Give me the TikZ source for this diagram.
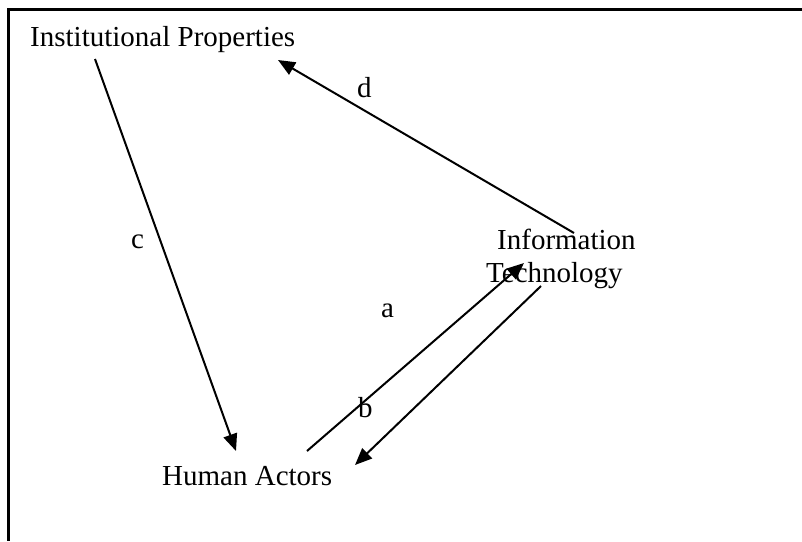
\documentclass[tikz,border=0pt]{standalone}
\usepackage{fontspec}
\setmainfont{Liberation Serif}
\usetikzlibrary{arrows.meta}
\begin{document}
\begin{tikzpicture}[x=1pt,y=-1pt,
  lbl/.style={inner sep=0pt,anchor=base west,font=\fontsize{29}{33}\selectfont},
  conn/.style={line width=2pt,-{Triangle[length=17pt,width=14pt]}},
  frameline/.style={line width=2.4pt}]
\useasboundingbox (0,0) rectangle (802,541);
% frame (only top and left edges visible)
\coordinate (fTR) at (802,9.5);
\coordinate (fTL) at (8.5,9.5);
\coordinate (fBL) at (8.5,541);
\draw[frameline] (fTR) -- (fTL) -- (fBL);
% text nodes
\node[lbl] (ip) at (30,46) {Institutional Properties};
\node[lbl] (it1) at (497,249) {Information};
\node[lbl] (it2) at (486,282) {Technology};
\node[lbl] (ha) at (162,485) {Human Actors};
% edge labels
\node[lbl] (la) at (381,317) {a};
\node[lbl] (lb) at (358,417) {b};
\node[lbl] (lc) at (131,248) {c};
\node[lbl] (ld) at (357,97) {d};
% connector ends
\coordinate (cS) at (95,59);
\coordinate (cE) at (236,451);
\coordinate (dS) at (574,233);
\coordinate (dE) at (278,60);
\coordinate (aS) at (307,451);
\coordinate (aE) at (524,263);
\coordinate (bS) at (541,286);
\coordinate (bE) at (355,465);
\draw[conn] (cS) -- (cE);
\draw[conn] (dS) -- (dE);
\draw[conn] (aS) -- (aE);
\draw[conn] (bS) -- (bE);
\end{tikzpicture}
\end{document}
